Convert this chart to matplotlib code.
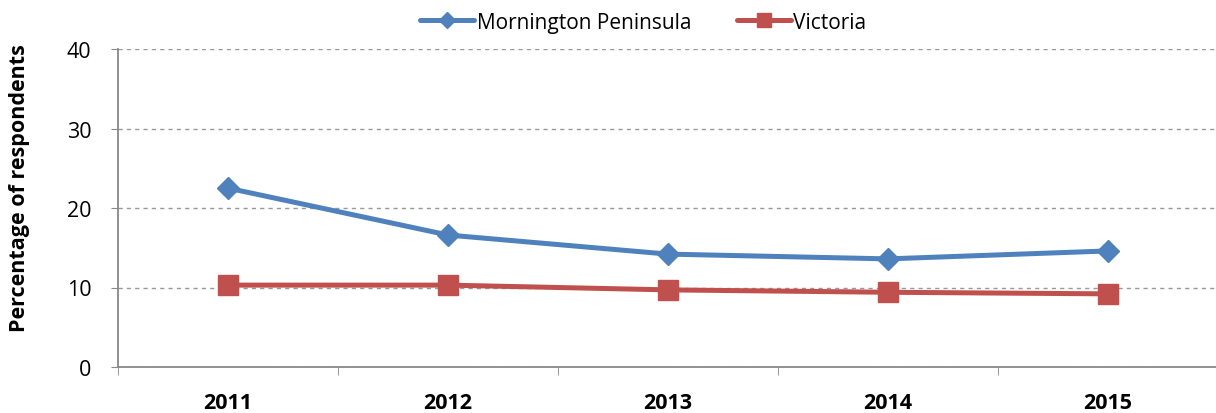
import matplotlib.pyplot as plt
import numpy as np

WIDTH = 1216
HEIGHT = 414

years = ["2011", "2012", "2013", "2014", "2015"]
mornington = [22.5, 16.6, 14.2, 13.6, 14.6]
victoria = [10.3, 10.3, 9.7, 9.4, 9.2]

plt.rcParams["font.family"] = ["Open Sans", "DejaVu Sans"]

fig = plt.figure(figsize=(WIDTH / 100, HEIGHT / 100), dpi=100)
ax = fig.add_axes([118 / WIDTH, 46 / HEIGHT, 1100 / WIDTH, 318 / HEIGHT])

x = np.arange(len(years))
ax.plot(x, mornington, color="#4F81BD", lw=3.6, marker="D", markersize=11,
        label="Mornington Peninsula", solid_capstyle="round")
ax.plot(x, victoria, color="#C0504D", lw=3.6, marker="s", markersize=14,
        label="Victoria", solid_capstyle="round")

ax.set_xlim(-0.5, 4.5)
ax.set_ylim(0, 40)
ax.set_yticks([0, 10, 20, 30, 40])
ax.set_xticks(x)
ax.set_xticklabels(years, fontweight="bold", fontsize=15.5)
ax.set_xticks(np.arange(-0.5, 5, 1), minor=True)
ax.tick_params(axis="x", which="major", length=0, pad=18)
ax.tick_params(axis="x", which="minor", length=6, color="#888888", direction="out")
ax.tick_params(axis="y", length=5, color="#888888", labelsize=15.5, pad=14)

ax.grid(axis="y", linestyle=(0, (3, 3)), color="#999999", lw=1)
ax.set_axisbelow(True)
for side in ["top", "right"]:
    ax.spines[side].set_visible(False)
for side in ["left", "bottom"]:
    ax.spines[side].set_color("#888888")
    ax.spines[side].set_linewidth(1.3)

ax.set_ylabel("Percentage of respondents", fontweight="bold", fontsize=15.5)
ax.yaxis.set_label_coords(-0.08, 0.566)

fig.legend(loc="upper center", bbox_to_anchor=(0.529, 1.015), ncol=2, frameon=False,
           fontsize=15, handlelength=2.6, columnspacing=2.2, handletextpad=0.1,
           markerscale=0.75)

fig.savefig("out.png", dpi=100)
